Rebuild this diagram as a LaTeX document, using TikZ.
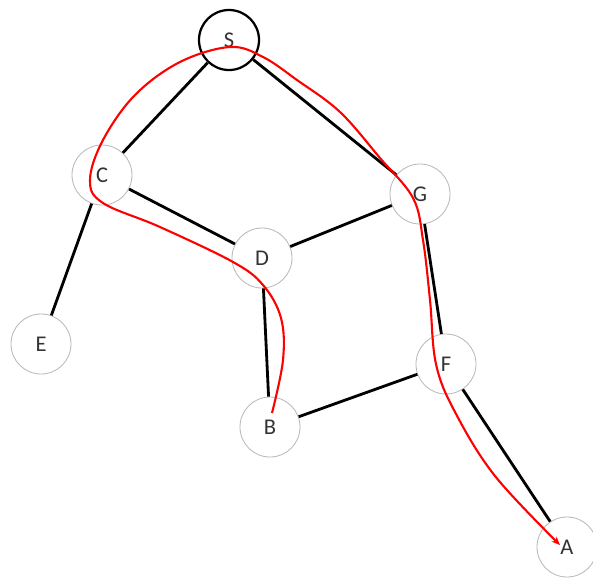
\documentclass[tikz,border=0pt]{standalone}
\usepackage{fontspec}
\setmainfont{Carlito}
\usetikzlibrary{arrows.meta}

\begin{document}
\begin{tikzpicture}
[x=0.025cm, y=-0.025cm, font=\fontsize{16}{19}\selectfont,
vertex/.style={circle, draw=gray!55, text=black!80, line width=0.6pt, inner sep=0pt, minimum size=1.5cm},
start/.style={circle, draw=black, text=black!80, line width=1.6pt, inner sep=0pt, minimum size=1.5cm},
edge/.style={draw=black, line width=2pt},
route/.style={draw=red, line width=1.5pt, -{Stealth[length=6pt, width=5pt]}}]

\useasboundingbox (0,0) rectangle (593,581);

\node[start] (S) at (229,40) {S};
\node[vertex] (C) at (102,175) {C};
\node[vertex] (G) at (420,194) {G};
\node[vertex] (D) at (262,258) {D};
\node[vertex] (E) at (41,344) {E};
\node[vertex] (F) at (446,364) {F};
\node[vertex] (B) at (270,427) {B};
\node[vertex] (A) at (567,547) {A};

\draw[edge] (S) -- (C);
\draw[edge] (S) -- (G);
\draw[edge] (C) -- (E);
\draw[edge] (C) -- (D);
\draw[edge] (D) -- (G);
\draw[edge] (D) -- (B);
\draw[edge] (B) -- (F);
\draw[edge] (G) -- (F);
\draw[edge] (F) -- (A);

% path found from B back to A
\draw[route] plot[smooth, tension=0.6] coordinates {
  (272,413) (283,360) (281,318) (263,285) (233,262) (160,227)
  (103,203) (90,180) (103,140) (135,95) (180,62) (230,47)
  (263,57) (297,80) (340,112) (380,158) (413,198) (423,240)
  (430,300) (436,364) (455,412) (495,476) (560,545)};
\end{tikzpicture}
\end{document}
